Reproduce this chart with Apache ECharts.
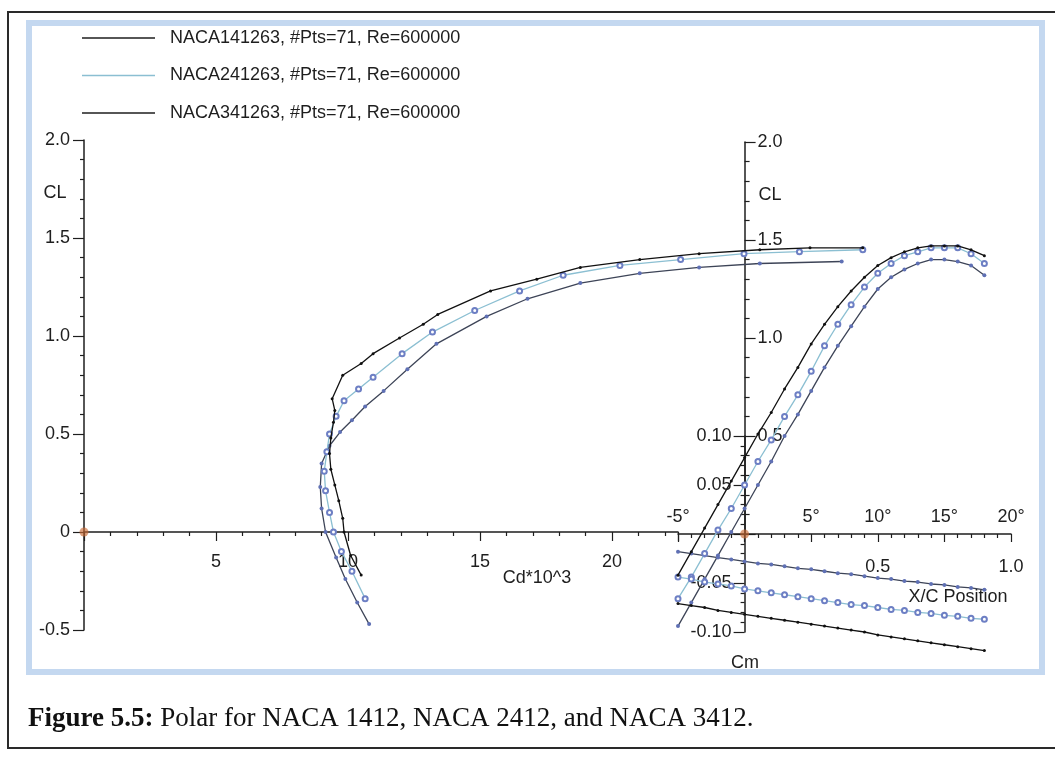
<!DOCTYPE html>
<html>
<head>
<meta charset="utf-8">
<script src="https://cdn.jsdelivr.net/npm/echarts@6/dist/echarts.min.js"></script>
<style>
  html, body { margin: 0; padding: 0; background: #fff; }
  #chart { width: 1055px; height: 758px; }
</style>
</head>
<body>
<div id="chart"></div>
<script>
// airfoil names as in the legend
const legendNames = [
  'NACA141263, #Pts=71, Re=600000',
  'NACA241263, #Pts=71, Re=600000',
  'NACA341263, #Pts=71, Re=600000'
];

// angle of attack (deg) used by the CL and Cm curves
const alphaDeg = [-5, -4, -3, -2, -1, 0, 1, 2, 3, 4, 5, 6, 7, 8, 9, 10, 11, 12, 13, 14, 15, 16, 17, 18];

// CL vs alpha
const cl1412 = [-0.47, -0.35, -0.23, -0.11, 0.01, 0.13, 0.25, 0.37, 0.50, 0.61, 0.73, 0.85, 0.96, 1.06, 1.16, 1.25, 1.31, 1.35, 1.38, 1.40, 1.40, 1.39, 1.37, 1.32];
const cl2412 = [-0.33, -0.22, -0.10, 0.02, 0.13, 0.25, 0.37, 0.48, 0.60, 0.71, 0.83, 0.96, 1.07, 1.17, 1.26, 1.33, 1.38, 1.42, 1.44, 1.46, 1.46, 1.46, 1.43, 1.38];
const cl3412 = [-0.21, -0.09, 0.03, 0.15, 0.27, 0.39, 0.51, 0.62, 0.74, 0.85, 0.97, 1.07, 1.16, 1.24, 1.31, 1.37, 1.41, 1.44, 1.46, 1.47, 1.47, 1.47, 1.45, 1.42];

// Cm vs alpha
const cm1412 = [-0.018, -0.020, -0.022, -0.024, -0.026, -0.028, -0.030, -0.031, -0.033, -0.035, -0.036, -0.038, -0.040, -0.041, -0.043, -0.045, -0.046, -0.048, -0.049, -0.051, -0.052, -0.054, -0.055, -0.057];
const cm2412 = [-0.044, -0.046, -0.049, -0.051, -0.053, -0.056, -0.058, -0.060, -0.062, -0.064, -0.066, -0.068, -0.070, -0.072, -0.073, -0.075, -0.077, -0.078, -0.080, -0.081, -0.083, -0.084, -0.086, -0.087];
const cm3412 = [-0.071, -0.073, -0.075, -0.078, -0.080, -0.082, -0.084, -0.086, -0.088, -0.090, -0.092, -0.094, -0.096, -0.098, -0.100, -0.103, -0.105, -0.107, -0.109, -0.111, -0.113, -0.115, -0.117, -0.119];

// drag polars: [Cd*10^3, CL]
const polar1412 = [[10.8, -0.47], [10.35, -0.36], [9.9, -0.24], [9.55, -0.13], [9.15, 0.00], [9.0, 0.12], [8.95, 0.23], [9.0, 0.35], [9.3, 0.44], [9.7, 0.51], [10.15, 0.57], [10.65, 0.64], [11.35, 0.72], [12.25, 0.83], [13.35, 0.96], [15.25, 1.10], [16.8, 1.19], [18.8, 1.27], [21.05, 1.32], [23.3, 1.35], [25.6, 1.37], [28.7, 1.38]];
const polar2412 = [[10.65, -0.34], [10.15, -0.20], [9.75, -0.10], [9.45, 0.00], [9.3, 0.10], [9.15, 0.21], [9.1, 0.31], [9.2, 0.41], [9.3, 0.50], [9.55, 0.59], [9.85, 0.67], [10.4, 0.73], [10.95, 0.79], [12.05, 0.91], [13.2, 1.02], [14.8, 1.13], [16.5, 1.23], [18.15, 1.31], [20.3, 1.36], [22.6, 1.39], [25.0, 1.42], [27.1, 1.43], [29.5, 1.44]];
const polar3412 = [[10.5, -0.22], [10.1, -0.12], [9.85, 0.00], [9.8, 0.07], [9.65, 0.16], [9.5, 0.24], [9.35, 0.32], [9.3, 0.40], [9.35, 0.48], [9.45, 0.56], [9.5, 0.62], [9.4, 0.68], [9.8, 0.80], [10.5, 0.86], [10.95, 0.91], [11.95, 0.99], [12.85, 1.06], [13.4, 1.11], [15.4, 1.23], [17.15, 1.29], [18.8, 1.35], [21.05, 1.39], [23.3, 1.42], [25.6, 1.44], [27.5, 1.45], [29.5, 1.45]];

const originPoint = [[0, 0]];

const font = '"Liberation Sans", Arial, sans-serif';
const serif = '"Liberation Serif", "Times New Roman", serif';
const ink = '#1e1e1e';
const lineColors = ['#3d4457', '#8bbfd2', '#111111'];
const legendColors = ['#1e1e1e', '#8bbfd2', '#1e1e1e'];
const markerStyles = [
  { symbol: 'circle', symbolSize: 4, itemStyle: { color: '#5f70b4' } },
  { symbol: 'emptyCircle', symbolSize: 5, itemStyle: { color: '#6d7fc4', borderWidth: 1.2 } },
  { symbol: 'circle', symbolSize: 3, itemStyle: { color: '#111' } }
];

// pixel layout of the two plots
const cdPx = 26.4;          // px per Cd*10^3 unit
const leftX0 = 84;          // Cd = 0
const rightX0 = 678;        // alpha = -5
const alphaW = 333;         // alpha -5 .. 20
const yAxisShift = -alphaW * 5 / 25; // move y axes from alpha=-5 to alpha=0

const axisLine = { onZero: false, lineStyle: { color: ink, width: 1.5 } };
const tickStyle = { color: ink, width: 1.2 };
const labelStyle = { color: ink, fontSize: 18, fontFamily: font };

function zip(xs, ys) {
  return xs.map((x, i) => [x, ys[i]]);
}

function curve(name, idx, xAxisIndex, yAxisIndex, data) {
  return {
    type: 'line',
    name,
    xAxisIndex,
    yAxisIndex,
    data,
    clip: false,
    showSymbol: true,
    ...markerStyles[idx],
    lineStyle: { color: lineColors[idx], width: 1.3 },
    emphasis: { disabled: true },
    z: 3 + idx
  };
}

const chart = echarts.init(document.getElementById('chart'));

const series = [];
const polars = [polar1412, polar2412, polar3412];
const cls = [cl1412, cl2412, cl3412];
const cms = [cm1412, cm2412, cm3412];
legendNames.forEach((name, i) => {
  series.push(curve(name, i, 4, 3, polars[i]));
  series.push(curve(name, i, 1, 1, zip(alphaDeg, cls[i])));
  series.push(curve(name, i, 2, 2, zip(alphaDeg, cms[i])));
});
[[0, 0], [1, 1]].forEach(([xi, yi]) => {
  series.push({
    type: 'scatter',
    xAxisIndex: xi,
    yAxisIndex: yi,
    data: originPoint,
    symbolSize: 9,
    clip: false,
    itemStyle: { color: 'rgba(200,105,50,0.8)' },
    z: 10
  });
});

chart.setOption({
  animation: false,
  backgroundColor: '#fff',
  legend: {
    orient: 'vertical',
    left: 77,
    top: 23,
    icon: 'rect',
    itemWidth: 73,
    itemHeight: 1.5,
    itemGap: 17.5,
    selectedMode: false,
    textStyle: { ...labelStyle, lineHeight: 20, padding: [0, 0, 0, 10] },
    data: legendNames.map((n, i) => ({ name: n, itemStyle: { color: legendColors[i] } }))
  },
  grid: [
    // CL vs Cd axes (CL 2.0 .. -0.5)
    { left: leftX0, top: 140, width: 22.5 * cdPx, height: 490 },
    // CL vs alpha (CL 0 .. 2.0)
    { left: rightX0, top: 142, width: alphaW, height: 392 },
    // Cm vs alpha (Cm 0.10 .. -0.10)
    { left: rightX0, top: 436, width: alphaW, height: 196 },
    // wide hidden frame so the polars can run past Cd = 22.5
    { left: leftX0, top: 140, width: 30 * cdPx, height: 490 }
  ],
  xAxis: [
    {
      type: 'value', gridIndex: 0, min: 0, max: 22.5, interval: 5, offset: -98,
      axisLine,
      axisTick: { length: 9, lineStyle: tickStyle },
      minorTick: { show: true, splitNumber: 5, length: 4, lineStyle: tickStyle },
      axisLabel: { ...labelStyle, margin: 21, showMaxLabel: false, formatter: v => (v === 0 ? '' : String(v)) },
      splitLine: { show: false }
    },
    {
      type: 'value', gridIndex: 1, min: -5, max: 20, interval: 5,
      axisLine,
      axisTick: { length: 8, lineStyle: tickStyle },
      minorTick: { show: true, splitNumber: 5, length: 4, lineStyle: tickStyle },
      axisLabel: { ...labelStyle, inside: true, margin: 8, formatter: v => (v === 0 ? '' : v + '°') },
      splitLine: { show: false }
    },
    {
      type: 'value', gridIndex: 2, min: -5, max: 20, position: 'top', show: false
    },
    {
      type: 'value', gridIndex: 2, min: -0.25, max: 1, position: 'bottom', offset: -98,
      axisLine: { show: false, onZero: false },
      axisTick: { show: false },
      axisLabel: { ...labelStyle, margin: 24, customValues: [0.5, 1.0], formatter: v => v.toFixed(1) },
      splitLine: { show: false }
    },
    {
      type: 'value', gridIndex: 3, min: 0, max: 30, show: false
    }
  ],
  yAxis: [
    {
      type: 'value', gridIndex: 0, min: -0.5, max: 2, interval: 0.5,
      axisLine,
      axisTick: { length: 11, lineStyle: tickStyle },
      minorTick: { show: true, splitNumber: 5, length: 4, lineStyle: tickStyle },
      axisLabel: { ...labelStyle, margin: 14, formatter: v => (v === 0 ? '0' : v.toFixed(1)) },
      splitLine: { show: false }
    },
    {
      type: 'value', gridIndex: 1, min: 0, max: 2, interval: 0.5, offset: yAxisShift,
      axisLine,
      axisTick: { inside: true, length: 11, lineStyle: tickStyle },
      minorTick: { show: true, splitNumber: 5, length: 5, lineStyle: tickStyle },
      axisLabel: { ...labelStyle, inside: true, margin: 13, formatter: v => (v === 0 ? '' : v.toFixed(1)) },
      splitLine: { show: false }
    },
    {
      type: 'value', gridIndex: 2, min: -0.1, max: 0.1, interval: 0.05, offset: yAxisShift,
      axisLine,
      axisTick: { length: 11, lineStyle: tickStyle },
      minorTick: { show: true, splitNumber: 5, length: 4, lineStyle: tickStyle },
      axisLabel: { ...labelStyle, margin: 13, formatter: v => (Math.abs(v) < 1e-9 ? '' : v.toFixed(2)) },
      splitLine: { show: false }
    },
    {
      type: 'value', gridIndex: 3, min: -0.5, max: 2, show: false
    }
  ],
  graphic: [
    // outer figure frame
    { type: 'rect', z: -10, silent: true, shape: { x: 8, y: 12, width: 1070, height: 736 }, style: { fill: null, stroke: '#2a2a2a', lineWidth: 2 } },
    // blue chart panel
    { type: 'rect', z: -9, silent: true, shape: { x: 29, y: 23, width: 1013, height: 649 }, style: { fill: null, stroke: '#c4d8f0', lineWidth: 6 } },
    { type: 'text', silent: true, style: { x: 55, y: 193, text: 'CL', align: 'center', verticalAlign: 'middle', fill: ink, font: '18px ' + font } },
    { type: 'text', silent: true, style: { x: 770, y: 195, text: 'CL', align: 'center', verticalAlign: 'middle', fill: ink, font: '18px ' + font } },
    { type: 'text', silent: true, style: { x: 537, y: 578, text: 'Cd*10^3', align: 'center', verticalAlign: 'middle', fill: ink, font: '18px ' + font } },
    { type: 'text', silent: true, style: { x: 958, y: 597, text: 'X/C Position', align: 'center', verticalAlign: 'middle', fill: ink, font: '18px ' + font } },
    { type: 'text', silent: true, style: { x: 745, y: 663, text: 'Cm', align: 'center', verticalAlign: 'middle', fill: ink, font: '18px ' + font } },
    {
      type: 'text', silent: true,
      style: {
        x: 28, y: 719, verticalAlign: 'middle',
        text: '{b|Figure 5.5:} Polar for NACA 1412, NACA 2412, and NACA 3412.',
        fill: '#111', font: '27px ' + serif,
        rich: { b: { fontWeight: 'bold', fontSize: 27, fontFamily: serif, fill: '#111' } }
      }
    }
  ],
  series
});
</script>
</body>
</html>
